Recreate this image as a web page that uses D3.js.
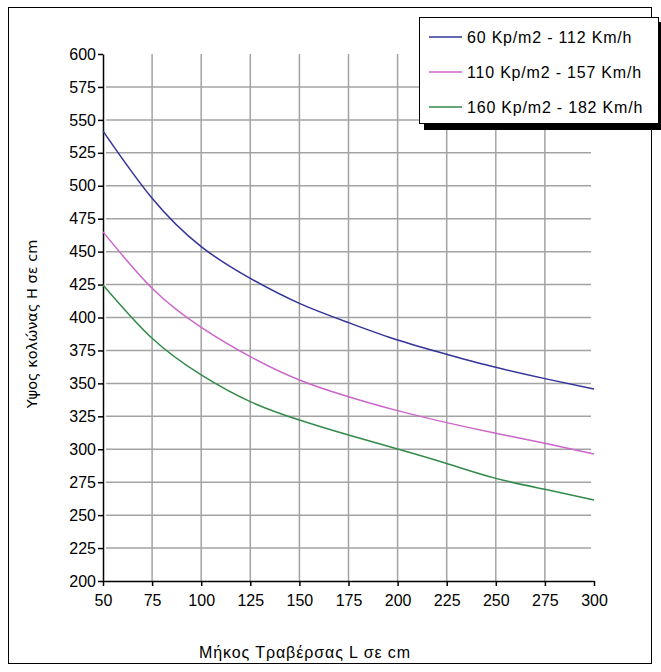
<!DOCTYPE html>
<html>
<head>
<meta charset="utf-8">
<script src="https://cdn.jsdelivr.net/npm/d3@7"></script>
<style>
  body { margin: 0; background: #fff; }
  svg { display: block; }
  .tick text { font-family: Arial, "Liberation Sans", sans-serif; }
</style>
</head>
<body>
<svg id="chart"></svg>
<script>
// span length L (cm)
const lengths = [50, 75, 100, 125, 150, 175, 200, 225, 250, 275, 300]

// column height H (cm), one array per wind load
const h60 = [541.5, 490.5, 453.8, 429.7, 410.7, 396.1, 382.9, 372.1, 362.2, 353.6, 345.7]
const h110 = [465, 422.2, 392.5, 370.3, 352.6, 339.9, 329.3, 320.2, 312.1, 304.5, 296.4]
const h160 = [424.7, 384.2, 356.4, 336.1, 322.2, 310.8, 300.2, 289.2, 277.9, 269.6, 261.5]

const seriesNames = ['60 Kp/m2 - 112 Km/h', '110 Kp/m2 - 157 Km/h', '160 Kp/m2 - 182 Km/h']
const seriesColors = ['#333399', '#cc66cc', '#338a4a']

const xTicks = [50, 75, 100, 125, 150, 175, 200, 225, 250, 275, 300]
const yTicks = [200, 225, 250, 275, 300, 325, 350, 375, 400, 425, 450, 475, 500, 525, 550, 575, 600]

const xTitle = 'Μήκος Τραβέρσας L σε cm'
const yTitle = 'Υψος κολώνας  Η σε cm'

const W = 661, H = 672
const plot = { left: 103, right: 594, top: 54, bottom: 581 }

const svg = d3.select('#chart').attr('width', W).attr('height', H)

// outer frame
svg.append('rect')
    .attr('x', 8.5).attr('y', 7.5)
    .attr('width', 643).attr('height', 656)
    .attr('fill', 'none').attr('stroke', '#000').attr('stroke-width', 1)

const x = d3.scaleLinear().domain([50, 300]).range([plot.left, plot.right])
const y = d3.scaleLinear().domain([200, 600]).range([plot.bottom, plot.top])

// grid
const grid = svg.append('g').attr('stroke', '#a3a3a3').attr('stroke-width', 1.5)
grid.selectAll('.vgrid')
    .data(xTicks.slice(1, -1))
    .join('line')
        .attr('class', 'vgrid')
        .attr('x1', d => x(d)).attr('x2', d => x(d))
        .attr('y1', y(600)).attr('y2', y(200))
grid.selectAll('.hgrid')
    .data(yTicks.slice(1, -1))
    .join('line')
        .attr('class', 'hgrid')
        .attr('x1', x(50) + 3).attr('x2', x(300) - 3)
        .attr('y1', d => y(d)).attr('y2', d => y(d))

// axes
const xAxis = d3.axisBottom(x).tickValues(xTicks).tickSize(5).tickSizeOuter(0)
const yAxis = d3.axisLeft(y).tickValues(yTicks).tickSize(5).tickSizeOuter(0)

const gx = svg.append('g')
    .attr('transform', `translate(0, ${plot.bottom})`)
    .call(xAxis)
gx.select('.domain').attr('stroke-width', 1.5)
gx.selectAll('.tick line').attr('stroke-width', 1.5)
gx.selectAll('.tick text').attr('font-size', 16).attr('fill', '#000').attr('dy', '1.05em')

const gy = svg.append('g')
    .attr('transform', `translate(${plot.left}, 0)`)
    .call(yAxis)
gy.select('.domain').attr('stroke-width', 1.5)
gy.selectAll('.tick line').attr('stroke-width', 1.5)
gy.selectAll('.tick text').attr('font-size', 16).attr('fill', '#000').attr('x', -7)

// curves
const allSeries = [h60, h110, h160]
const line = d3.line()
    .x((d, i) => x(lengths[i]))
    .y(d => y(d))
    .curve(d3.curveNatural)

svg.append('g').selectAll('.curve')
    .data(allSeries)
    .join('path')
        .attr('class', 'curve')
        .attr('fill', 'none')
        .attr('stroke', (d, i) => seriesColors[i])
        .attr('stroke-width', 1.5)
        .attr('d', line)

// axis titles
svg.append('text')
    .attr('x', 305).attr('y', 658)
    .attr('text-anchor', 'middle')
    .attr('font-family', 'Arial, "Liberation Sans", sans-serif')
    .attr('font-size', 16)
    .attr('letter-spacing', 0.9)
    .text(xTitle)

svg.append('text')
    .attr('transform', 'translate(37, 324) rotate(-90)')
    .attr('text-anchor', 'middle')
    .attr('font-family', '"DejaVu Sans", Verdana, sans-serif')
    .attr('font-size', 14.5)
    .text(yTitle)

// legend with drop shadow
const legend = svg.append('g')
svg.append('rect')
    .attr('x', 424).attr('y', 22)
    .attr('width', 239).attr('height', 108)
    .attr('fill', '#000')
legend.append('rect')
    .attr('x', 419.5).attr('y', 17.5)
    .attr('width', 239).attr('height', 106)
    .attr('fill', '#fff').attr('stroke', '#000').attr('stroke-width', 1)
legend.raise()

const rows = legend.selectAll('.row')
    .data(seriesNames)
    .join('g')
        .attr('class', 'row')
        .attr('transform', (d, i) => `translate(429, ${37 + i * 35})`)
rows.append('line')
    .attr('x1', 0).attr('x2', 33)
    .attr('stroke', (d, i) => seriesColors[i])
    .attr('stroke-width', 1.5)
rows.append('text')
    .attr('x', 38).attr('dy', '0.35em')
    .attr('font-family', 'Arial, "Liberation Sans", sans-serif')
    .attr('font-size', 16)
    .attr('letter-spacing', 0.8)
    .text(d => d)
</script>
</body>
</html>
